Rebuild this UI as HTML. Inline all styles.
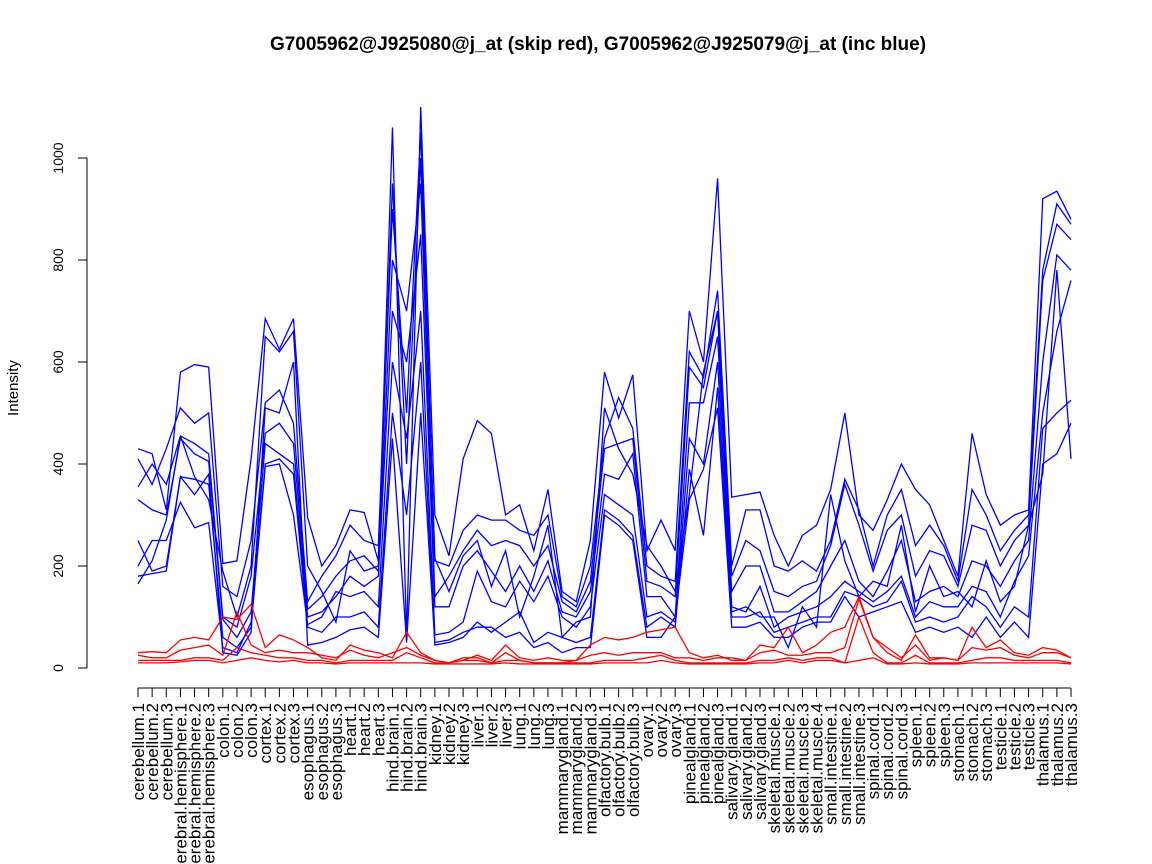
<!DOCTYPE html>
<html><head><meta charset="utf-8"><style>
html,body{margin:0;padding:0;background:#fff;}
svg{display:block;font-family:"Liberation Sans",Arial,sans-serif;}
</style></head><body>
<svg id="chart" width="1152" height="864" viewBox="0 0 1152 864">
<text x="598" y="50" text-anchor="middle" font-size="19" font-weight="bold">G7005962@J925080@j_at (skip red), G7005962@J925079@j_at (inc blue)</text>
<text transform="translate(18,388) rotate(-90)" text-anchor="middle" font-size="15">Intensity</text>
<g id="yaxis"></g>
<g id="xaxis"></g>
<g id="series"></g>
</svg>
<script>
const categories=["cerebellum.1","cerebellum.2","cerebellum.3","cerebral.hemisphere.1","cerebral.hemisphere.2","cerebral.hemisphere.3","colon.1","colon.2","colon.3","cortex.1","cortex.2","cortex.3","esophagus.1","esophagus.2","esophagus.3","heart.1","heart.2","heart.3","hind.brain.1","hind.brain.2","hind.brain.3","kidney.1","kidney.2","kidney.3","liver.1","liver.2","liver.3","lung.1","lung.2","lung.3","mammarygland.1","mammarygland.2","mammarygland.3","olfactory.bulb.1","olfactory.bulb.2","olfactory.bulb.3","ovary.1","ovary.2","ovary.3","pinealgland.1","pinealgland.2","pinealgland.3","salivary.gland.1","salivary.gland.2","salivary.gland.3","skeletal.muscle.1","skeletal.muscle.2","skeletal.muscle.3","skeletal.muscle.4","small.intestine.1","small.intestine.2","small.intestine.3","spinal.cord.1","spinal.cord.2","spinal.cord.3","spleen.1","spleen.2","spleen.3","stomach.1","stomach.2","stomach.3","testicle.1","testicle.2","testicle.3","thalamus.1","thalamus.2","thalamus.3"];
const yTicks=[0,200,400,600,800,1000];
const blueRows=[
[430,410,355,330,250,200,180,165],[420,360,400,310,190,250,185,210],[310,430,360,300,200,250,190,290],
[580,510,455,450,375,325,375,455],[595,480,440,420,370,275,340,375],[590,500,420,405,360,285,380,330],
[205,160,100,95,60,40,30,190],[210,140,80,60,40,30,25,100],[410,250,180,110,80,90,70,200],
[685,520,460,440,395,400,510,650],[625,545,480,420,400,410,500,620],[685,480,440,400,300,380,600,660],
[295,130,115,100,85,80,45,200],[200,180,140,110,100,70,50,150],[240,220,180,140,150,100,60,90],
[310,280,210,180,140,100,75,230],[305,250,220,160,150,110,80,190],[210,240,190,180,120,80,60,200],
[1060,900,800,700,600,500,450,950],[60,500,700,600,450,300,50,400],[1100,1050,950,850,700,600,500,1000],
[300,210,140,120,65,45,50,215],[220,200,180,120,70,50,55,150],[410,270,230,200,90,60,70,220],
[485,300,270,230,190,90,80,250],[460,290,240,190,130,70,80,160],[300,290,250,150,120,90,60,230],
[320,270,240,200,170,110,70,100],[230,260,200,150,130,50,40,180],[350,300,240,210,180,70,50,280],
[150,140,130,110,100,60,30,60],[130,120,110,100,80,50,40,90],[250,200,170,150,120,60,40,100],
[580,450,430,380,340,310,300,510],[490,530,440,370,320,290,280,430],[575,470,450,420,300,260,250,380],
[230,200,170,140,100,80,60,240],[290,180,160,140,110,100,60,200],[230,170,140,100,90,80,100,150],
[700,620,590,520,450,390,330,340],[600,570,550,520,400,260,390,580],[960,740,700,650,600,550,510,700],
[335,200,180,150,120,100,80,110],[340,310,250,200,110,100,80,120],[345,310,230,200,160,110,90,100],
[260,200,150,110,80,70,60,100],[200,190,140,110,100,80,60,40],[260,210,160,130,110,90,80,120],[280,190,170,150,120,100,90,80],
[350,250,240,200,140,100,90,340],[500,370,360,250,170,150,140,210],[300,310,280,170,150,140,100,140],
[270,200,190,140,130,120,110,170],[330,300,270,190,150,130,120,160],[400,350,300,250,180,170,130,280],
[350,240,180,130,100,90,70,110],[320,280,230,150,130,100,80,200],[250,240,220,160,120,90,70,140],
[180,170,160,140,120,100,80,150],[460,350,280,210,160,140,60,120],[340,300,270,200,150,120,100,210],
[280,230,200,160,100,80,60,130],[300,270,250,210,170,120,90,160],[310,300,280,250,220,100,60,280],
[920,780,760,600,500,470,400,380],[935,910,870,810,660,500,420,780],[880,870,840,780,760,525,480,410]];
const red1=[30,32,30,55,60,55,100,95,125,40,65,55,40,20,15,45,35,30,20,70,30,15,10,15,25,15,45,20,15,20,15,15,45,60,55,60,70,75,80,30,20,25,15,15,45,40,80,30,45,70,80,140,60,40,20,45,15,20,15,80,40,55,30,25,40,35,20];
const red2=[25,20,20,35,40,45,25,110,45,30,35,30,30,25,20,35,25,20,30,40,25,15,10,20,20,10,30,15,10,10,10,15,25,30,25,30,30,30,20,20,15,20,20,15,30,35,25,25,30,30,40,135,60,30,15,65,20,20,15,40,35,40,25,20,30,30,20];
const red3=[15,15,15,15,20,20,15,40,30,25,20,20,15,15,10,15,15,15,15,30,20,10,10,15,15,10,15,15,10,10,10,10,10,15,15,15,20,25,15,10,10,10,10,10,15,15,20,15,20,20,10,100,30,10,10,25,10,10,10,15,20,20,15,15,15,15,10];
const red4=[10,10,10,12,15,15,10,15,20,15,12,15,10,10,8,10,10,10,10,10,10,8,8,8,8,8,10,8,8,8,8,8,8,10,10,10,10,15,10,8,8,8,8,8,10,10,15,10,15,15,10,15,20,8,8,10,8,8,8,10,10,10,10,10,10,10,8];

const NS="http://www.w3.org/2000/svg";
const x0=138,x1=1071;
function xs(i){return x0+(x1-x0)*i/(categories.length-1);}
function ys(v){return 668-v*0.51;}
function mk(tag,attrs,parent){const e=document.createElementNS(NS,tag);for(const k in attrs)e.setAttribute(k,attrs[k]);parent.appendChild(e);return e;}
const ya=document.getElementById('yaxis'),xa=document.getElementById('xaxis'),sg=document.getElementById('series');
const yl=mk('line',{x1:87,x2:87,y1:ys(0),y2:ys(1000),stroke:'#000'},ya);


yTicks.forEach(t=>{
  const tk=mk('line',{x1:78,x2:87,y1:ys(t),y2:ys(t),stroke:'#000'},ya);
  
  
  const tx=mk('text',{transform:`translate(63,${ys(t)}) rotate(-90)`,'text-anchor':'middle','font-size':14},ya);
  tx.textContent=t;
  
  
});
const xl=mk('line',{x1:x0,x2:x1,y1:688,y2:688,stroke:'#000'},xa);


categories.forEach((c,i)=>{
  const tk=mk('line',{x1:xs(i),x2:xs(i),y1:688,y2:697,stroke:'#000'},xa);
  
  
  const tx=mk('text',{transform:`translate(${xs(i)+6},703) rotate(-90)`,'text-anchor':'end','font-size':17},xa);
  tx.textContent=c;
  
  
});
function draw(vals,color,name){
  const p=mk('polyline',{points:vals.map((v,i)=>xs(i)+','+ys(v)).join(' '),fill:'none',stroke:color,'stroke-width':1.3},sg);
  
  
}
for(let s=0;s<8;s++){draw(blueRows.map(r=>r[s]),'#0000ff','blue-series-'+(s+1));}
[red1,red2,red3,red4].forEach((r,k)=>draw(r,'#ff0000','red-series-'+(k+1)));
</script>
</body></html>
